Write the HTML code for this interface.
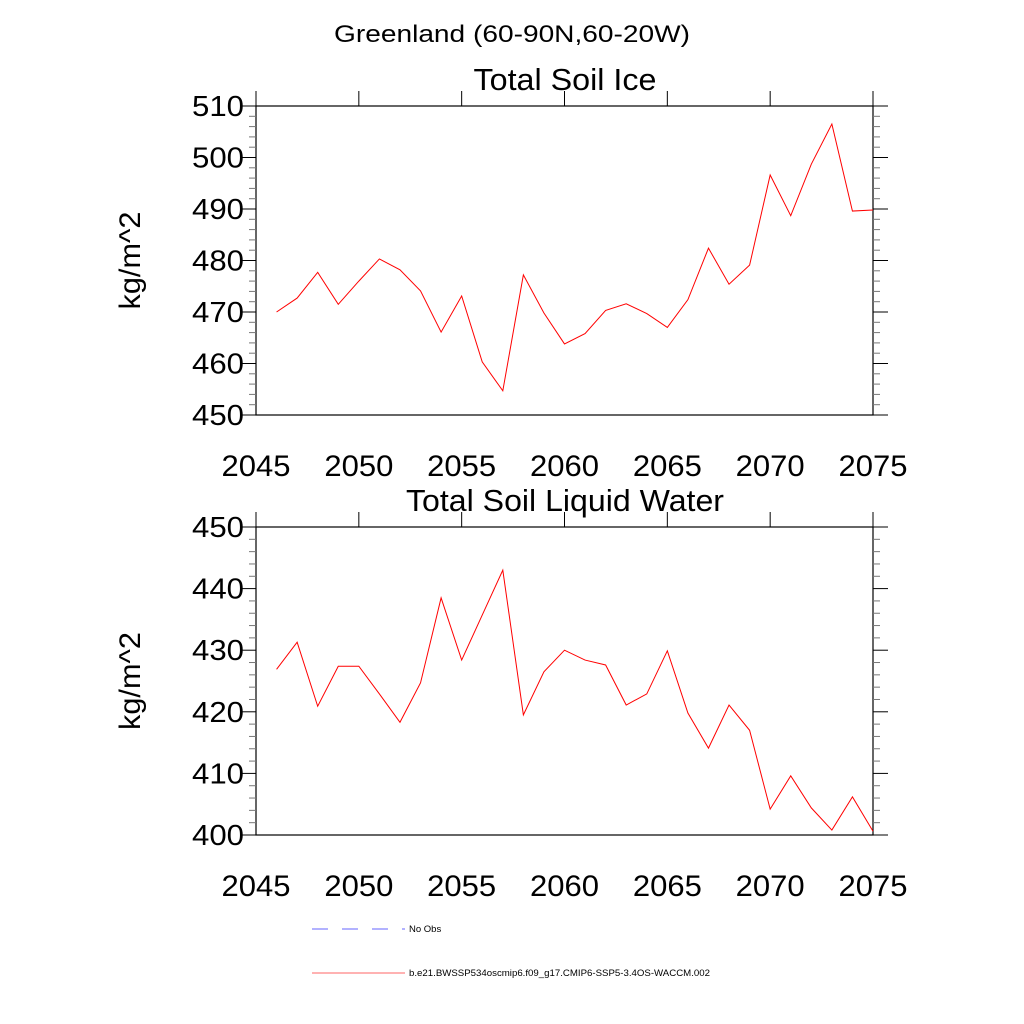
<!DOCTYPE html>
<html><head><meta charset="utf-8"><style>body{margin:0;background:#fff}svg{display:block}</style></head>
<body>
<svg id="c" width="1024" height="1024" xmlns="http://www.w3.org/2000/svg" font-family="Liberation Sans, sans-serif">
<text x="512" y="42" text-anchor="middle" font-size="24" textLength="356" lengthAdjust="spacingAndGlyphs">Greenland (60-90N,60-20W)</text>
<g id="p1"></g><g id="p2"></g>
<g>
<line x1="312" y1="929" x2="405" y2="929" stroke="#6666ff" stroke-width="1" stroke-dasharray="16,14"/>
<text x="409" y="932" font-size="9.5">No Obs</text>
<line x1="312" y1="973" x2="405" y2="973" stroke="#ff6666" stroke-width="1"/>
<text x="409" y="976" font-size="9.5" textLength="301" lengthAdjust="spacingAndGlyphs">b.e21.BWSSP534oscmip6.f09_g17.CMIP6-SSP5-3.4OS-WACCM.002</text>
</g>
</svg>
<script>
const years=[2046,2047,2048,2049,2050,2051,2052,2053,2054,2055,2056,2057,2058,2059,2060,2061,2062,2063,2064,2065,2066,2067,2068,2069,2070,2071,2072,2073,2074,2075];
const iceVals=[470.0,472.7,477.7,471.5,476.0,480.3,478.2,474.1,466.1,473.1,460.3,454.7,477.2,469.8,463.8,465.8,470.3,471.6,469.7,467.0,472.4,482.4,475.4,479.1,496.6,488.7,498.7,506.5,489.6,489.8];
const liqVals=[426.9,431.3,420.9,427.4,427.4,422.9,418.3,424.7,438.5,428.4,435.7,443.0,419.5,426.5,430.0,428.4,427.6,421.1,422.9,429.9,419.8,414.1,421.1,417.0,404.2,409.6,404.4,400.8,406.2,400.6];
const xTicks=[2045,2050,2055,2060,2065,2070,2075];
const iceTicks=[450,460,470,480,490,500,510];
const liqTicks=[400,410,420,430,440,450];
const NS='http://www.w3.org/2000/svg';
function mk(p,t,a,txt){const e=document.createElementNS(NS,t);for(const k in a)e.setAttribute(k,a[k]);if(txt!==undefined)e.textContent=txt;p.appendChild(e);return e;}
function panel(g,top,bot,title,tw,yt,vals,nm){
 const L=256,R=873,x0=2045,x1=2075,y0=yt[0],y1=yt[yt.length-1];
 const X=v=>L+(v-x0)/(x1-x0)*(R-L), Y=v=>bot-(v-y0)/(y1-y0)*(bot-top);
 const t=mk(g,'text',{x:565,y:top-16,'text-anchor':'middle','font-size':31,textLength:tw,lengthAdjust:'spacingAndGlyphs'},title);
 
 
 const f=mk(g,'rect',{x:L,y:top,width:R-L,height:bot-top,fill:'none',stroke:'#000','stroke-width':1.2});
 
 
 for(let v=y0;v<=y1+0.001;v+=2){const y=Y(v);const maj=Math.abs((v-y0)%10)<0.01;const len=maj?15:7;
  mk(g,'line',{x1:L-len,y1:y,x2:L,y2:y,stroke:maj?'#000':'#777','stroke-width':1});
  mk(g,'line',{x1:R,y1:y,x2:R+len,y2:y,stroke:maj?'#000':'#777','stroke-width':1});}
 yt.forEach(v=>{const e=mk(g,'text',{x:L-12,y:Y(v)+10,'text-anchor':'end','font-size':29,textLength:52,lengthAdjust:'spacingAndGlyphs'},v);
  
  });
 xTicks.forEach(v=>{mk(g,'line',{x1:X(v),y1:top-15,x2:X(v),y2:top,stroke:'#000','stroke-width':1});
  const e=mk(g,'text',{x:X(v),y:bot+61,'text-anchor':'middle','font-size':30,textLength:69,lengthAdjust:'spacingAndGlyphs'},v);
  
  });
 const yl=mk(g,'text',{x:0,y:0,'text-anchor':'middle','font-size':30,textLength:98,lengthAdjust:'spacingAndGlyphs',transform:`translate(140,${(top+bot)/2}) rotate(-90)`},'kg/m^2');
 
 
 const pl=mk(g,'polyline',{points:years.map((yr,i)=>X(yr)+','+Y(vals[i])).join(' '),fill:'none',stroke:'#ff0000','stroke-width':1});
 
 
}
panel(document.getElementById('p1'),106,415,'Total Soil Ice',183,iceTicks,iceVals,'soil-ice');
panel(document.getElementById('p2'),527,835,'Total Soil Liquid Water',318,liqTicks,liqVals,'soil-liquid');
</script>
</body></html>
